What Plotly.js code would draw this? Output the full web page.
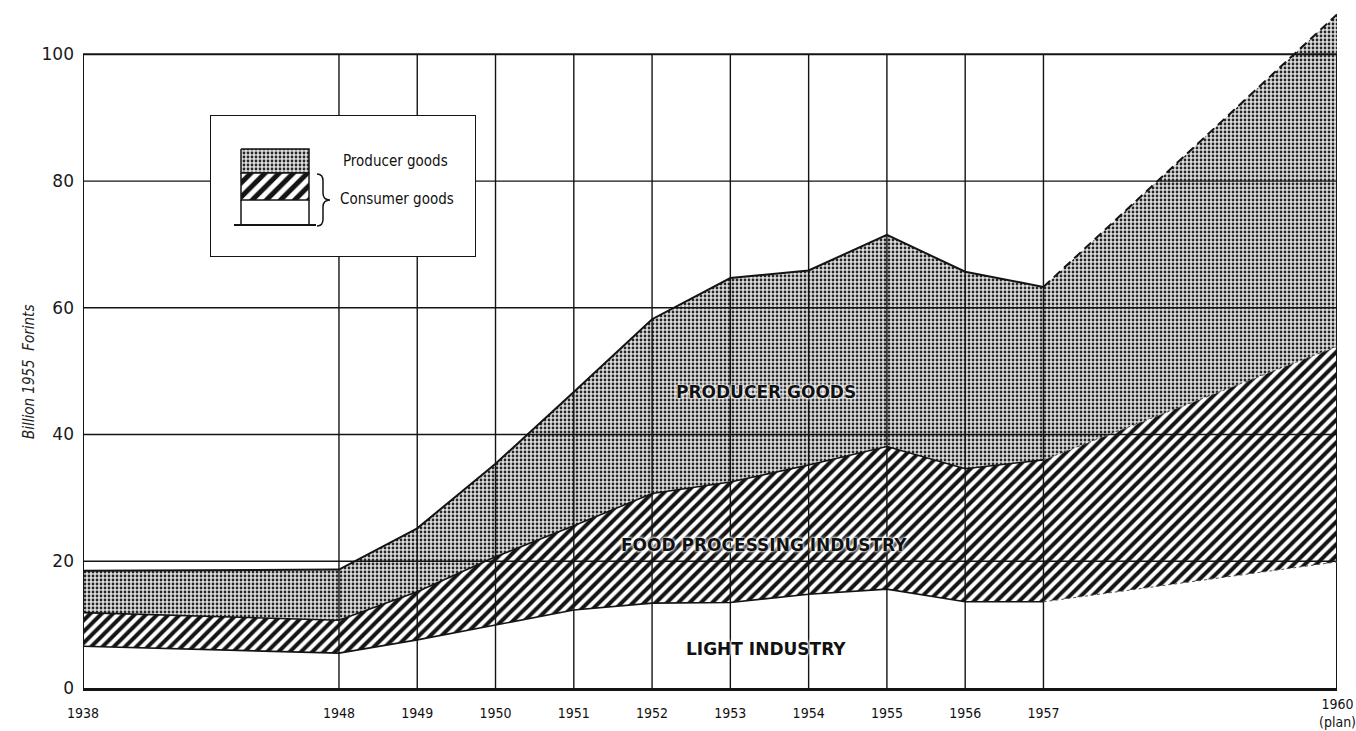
<!DOCTYPE html>
<html><head><meta charset="utf-8">
<script src="https://cdn.plot.ly/plotly-3.0.1.min.js"></script>
<style>html,body{margin:0;padding:0;background:#fff;} #chart{width:1356px;height:731px;}</style>
</head><body><div id="chart"></div>
<script>
// ---------- data ----------
const years = ['1938','1948','1949','1950','1951','1952','1953','1954','1955','1956','1957','1960'];
const yearLabels = ['1938','1948','1949','1950','1951','1952','1953','1954','1955','1956','1957','1960<br>(plan)'];
// horizontal position of each year on the (non-linear) time axis of the original chart
const xPos = [0, 3.27, 4.27, 5.27, 6.27, 7.27, 8.27, 9.27, 10.27, 11.27, 12.27, 16.02];
const lightIndustry  = [6.6, 5.5, 7.6, 10.0, 12.3, 13.4, 13.5, 14.8, 15.6, 13.6, 13.6, 19.9];
const foodProcessing = [5.3, 5.2, 7.6, 10.7, 13.3, 17.3, 19.0, 20.4, 22.5, 21.0, 22.4, 34.0];
const producerGoods  = [6.6, 8.0, 10.0, 14.7, 21.1, 27.5, 32.2, 30.7, 33.4, 31.1, 27.3, 52.4];
const yTicks = [0, 20, 40, 60, 80, 100];
const lastActual = 10; // index of 1957; the segment to 1960 is the plan

// ---------- layout geometry ----------
const W = 1356, H = 731;
const M = {l: 83, r: 19, t: 10, b: 43};
const PW = W - M.l - M.r, PH = H - M.t - M.b;
const px2x = p => (p - M.l) / PW;
const py2y = p => (H - M.b - p) / PH;
const LEG = {left: 210, top: 115, w: 266, h: 142};

const cum1 = lightIndustry.slice();
const cum2 = cum1.map((v, i) => v + foodProcessing[i]);
const cum3 = cum2.map((v, i) => v + producerGoods[i]);

const ink = '#141414';
const hatch = {shape: '/', size: 8, solidity: 0.5, fgcolor: ink, bgcolor: '#ffffff', fillmode: 'replace'};
const dots = {shape: '.', size: 4, solidity: 0.38, fgcolor: '#262626', bgcolor: '#dedede', fillmode: 'replace'};

const traces = [];
// stacked areas
traces.push({x: xPos, y: lightIndustry, stackgroup: 'a', mode: 'lines', line: {width: 0}, fillcolor: '#ffffff', hoverinfo: 'skip', showlegend: false});
traces.push({x: xPos, y: foodProcessing, stackgroup: 'a', mode: 'lines', line: {width: 0}, fillcolor: '#ffffff', fillpattern: hatch, hoverinfo: 'skip', showlegend: false});
traces.push({x: xPos, y: producerGoods, stackgroup: 'a', mode: 'lines', line: {width: 0}, fillcolor: '#d6d6d6', fillpattern: dots, hoverinfo: 'skip', showlegend: false});

// grid (drawn over the fills, as in the original)
const gx = [], gy = [];
for (let i = 1; i < xPos.length - 1; i++) { gx.push(xPos[i], xPos[i], null); gy.push(0, 100, null); }
for (let j = 1; j < yTicks.length - 1; j++) { gx.push(xPos[0], xPos[xPos.length - 1], null); gy.push(yTicks[j], yTicks[j], null); }
traces.push({x: gx, y: gy, mode: 'lines', line: {color: ink, width: 1.4}, hoverinfo: 'skip', showlegend: false, connectgaps: false});
const fx = [xPos[0], xPos[0], xPos[xPos.length-1], xPos[xPos.length-1]];
const fy = [0, 100, 100, 0];
traces.push({x: fx, y: fy, mode: 'lines', line: {color: ink, width: 2}, hoverinfo: 'skip', showlegend: false});

// boundaries
const act = a => a.slice(0, lastActual + 1);
const plan = a => a.slice(lastActual);
traces.push({x: act(xPos), y: act(cum1), mode: 'lines', line: {color: ink, width: 1.6}, hoverinfo: 'skip', showlegend: false});
traces.push({x: act(xPos), y: act(cum2), mode: 'lines', line: {color: ink, width: 1.6}, hoverinfo: 'skip', showlegend: false});
traces.push({x: act(xPos), y: act(cum3), mode: 'lines', line: {color: ink, width: 2}, hoverinfo: 'skip', showlegend: false});
traces.push({x: plan(xPos), y: plan(cum1), mode: 'lines', line: {color: '#555', width: 1, dash: '3px,3px'}, hoverinfo: 'skip', showlegend: false});
traces.push({x: plan(xPos), y: plan(cum2), mode: 'lines', line: {color: '#555', width: 1, dash: '3px,3px'}, hoverinfo: 'skip', showlegend: false});
traces.push({x: plan(xPos), y: plan(cum3), mode: 'lines', line: {color: ink, width: 2, dash: '9px,5px'}, hoverinfo: 'skip', showlegend: false});

// legend (own small axes, pixel units inside the box)
const SW = {x0: 31, x1: 99, yDot: 34, yHatch: 58, yWhite: 85, yBase: 110, bx0: 24, bx1: 106};
traces.push({xaxis: 'x2', yaxis: 'y2', x: [SW.x0, SW.x1, SW.x1, SW.x0, SW.x0], y: [SW.yDot, SW.yDot, SW.yHatch, SW.yHatch, SW.yDot],
  mode: 'lines', fill: 'toself', fillcolor: '#d6d6d6', fillpattern: dots, line: {color: ink, width: 1.5}, hoverinfo: 'skip', showlegend: false});
traces.push({xaxis: 'x2', yaxis: 'y2', x: [SW.x0, SW.x1, SW.x1, SW.x0, SW.x0], y: [SW.yHatch, SW.yHatch, SW.yWhite, SW.yWhite, SW.yHatch],
  mode: 'lines', fill: 'toself', fillcolor: '#fff', fillpattern: {shape: '/', size: 10, solidity: 0.5, fgcolor: ink, bgcolor: '#fff'}, line: {color: ink, width: 1.5}, hoverinfo: 'skip', showlegend: false});
traces.push({xaxis: 'x2', yaxis: 'y2', x: [SW.x0, SW.x0, null, SW.x1, SW.x1], y: [SW.yWhite, SW.yBase, null, SW.yWhite, SW.yBase],
  mode: 'lines', line: {color: ink, width: 1.5}, hoverinfo: 'skip', showlegend: false});
traces.push({xaxis: 'x2', yaxis: 'y2', x: [SW.bx0, SW.bx1], y: [SW.yBase, SW.yBase],
  mode: 'lines', line: {color: ink, width: 2.2}, hoverinfo: 'skip', showlegend: false});

const narrow = '"Liberation Sans Narrow", "DejaVu Sans Condensed", sans-serif';
const tickFont = {family: narrow, size: 14, color: '#111'};
const halo = '0 0 2px #fff, 0 0 3px #fff, 0 0 4px #fff';
const labelFont = {family: '"DejaVu Sans", sans-serif', size: 17, weight: 'bold', color: '#111', shadow: halo};

const nTick = xPos.length - 1;
const layout = {
  width: W, height: H,
  margin: M,
  paper_bgcolor: '#fff', plot_bgcolor: 'rgba(0,0,0,0)',
  hovermode: false,
  showlegend: false,
  xaxis: {range: [xPos[0], xPos[nTick]], tickvals: xPos.slice(0, nTick), ticktext: yearLabels.slice(0, nTick), showgrid: false, zeroline: false,
    showline: true, linecolor: ink, linewidth: 3, ticks: '', ticklabelstandoff: 10, tickfont: tickFont, fixedrange: true},
  yaxis: {range: [0, 107], tickvals: yTicks, ticktext: yTicks.map(String), showgrid: false, zeroline: false, showline: false,
    ticks: '', ticklabelstandoff: 8, tickfont: {family: '"DejaVu Sans", sans-serif', size: 17, color: '#1a1a1a'}, fixedrange: true},
  xaxis2: {domain: [px2x(LEG.left), px2x(LEG.left + LEG.w)], range: [0, LEG.w], visible: false, anchor: 'y2', fixedrange: true},
  yaxis2: {domain: [py2y(LEG.top + LEG.h), py2y(LEG.top)], range: [LEG.h, 0], visible: false, anchor: 'x2', fixedrange: true},
  shapes: [
    {type: 'rect', xref: 'x2', yref: 'y2', x0: 0, x1: LEG.w, y0: 0, y1: LEG.h, fillcolor: '#fff', line: {color: ink, width: 2}, layer: 'below'},
    {type: 'path', xref: 'x2', yref: 'y2', layer: 'below', line: {color: ink, width: 1.5},
     path: 'M 107 59 Q 113 59 113 66 L 113 78 Q 113 85 120 85 Q 113 85 113 92 L 113 104 Q 113 111 107 111'}
  ],
  annotations: [
    {xref: 'x', yref: 'paper', x: xPos[nTick], y: py2y(695), yanchor: 'top', xanchor: 'center', text: yearLabels[nTick], showarrow: false,
     font: {family: narrow, size: 14, color: '#111'}, borderpad: 0},
    {xref: 'x', yref: 'y', x: 8.72, y: 46.7, text: 'PRODUCER GOODS', showarrow: false, font: labelFont},
    {xref: 'x', yref: 'y', x: 8.70, y: 22.6, text: 'FOOD PROCESSING INDUSTRY', showarrow: false, font: labelFont},
    {xref: 'x', yref: 'y', x: 8.72, y: 6.1, text: 'LIGHT INDUSTRY', showarrow: false, font: labelFont},
    {xref: 'x2', yref: 'y2', x: 131, y: 46, xanchor: 'left', text: 'Producer goods', showarrow: false, font: {family: narrow, size: 15, color: '#111'}},
    {xref: 'x2', yref: 'y2', x: 128, y: 84, xanchor: 'left', text: 'Consumer goods', showarrow: false, font: {family: narrow, size: 15, color: '#111'}},
    {xref: 'paper', yref: 'paper', x: px2x(18), y: py2y(372), textangle: -90, text: 'Billion 1955  Forints', showarrow: false,
     font: {family: narrow, size: 15, color: '#222', style: 'italic'}}
  ]
};

Plotly.newPlot('chart', traces, layout, {staticPlot: true, displayModeBar: false});
</script>
</body></html>
